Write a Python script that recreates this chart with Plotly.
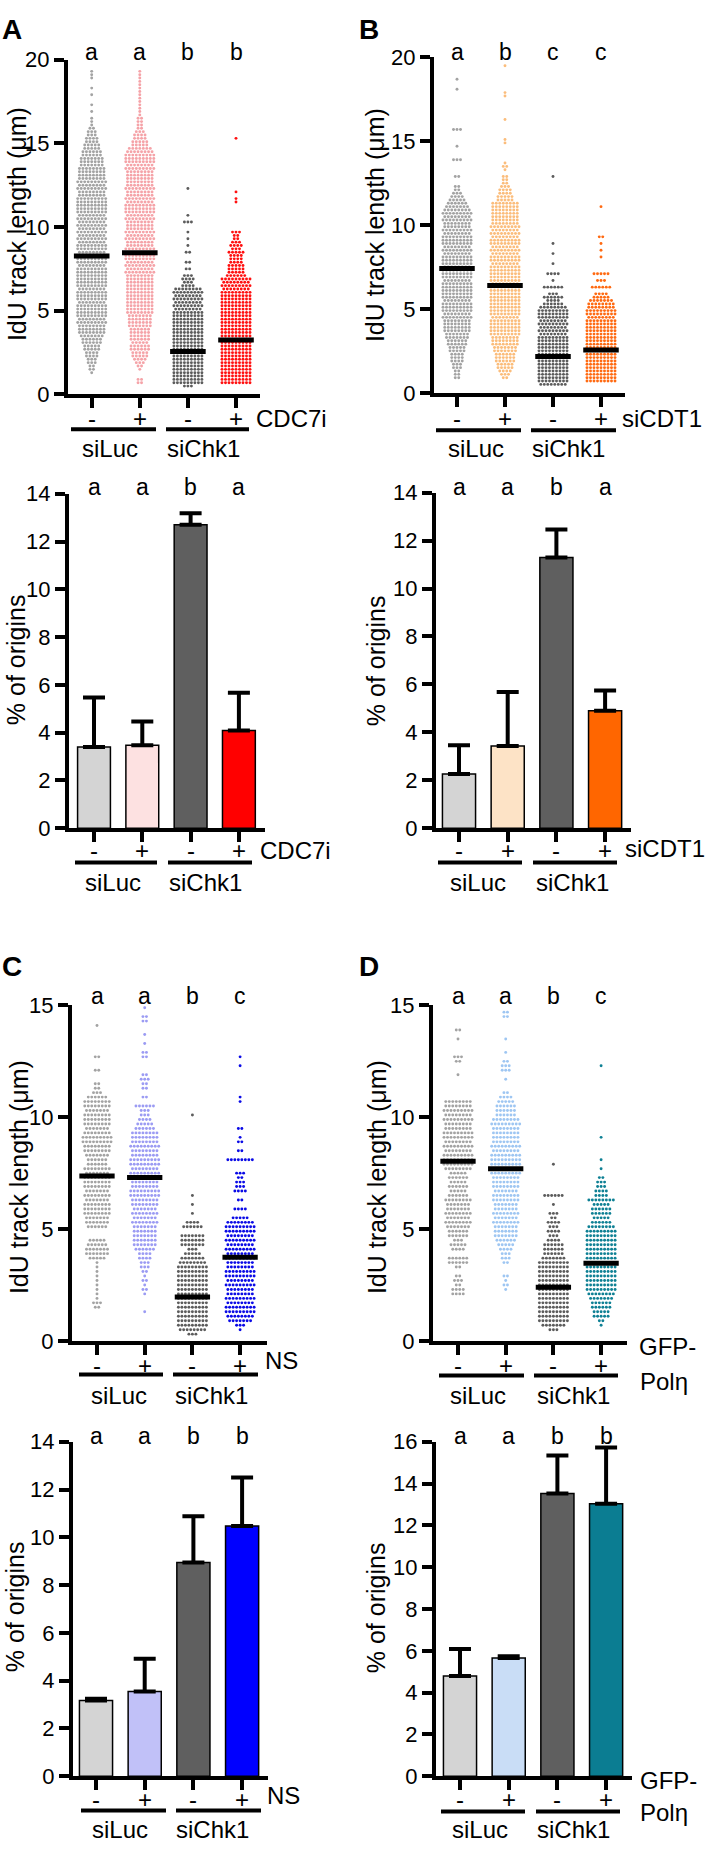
import plotly.graph_objects as go

W, H = 709, 1857

# ---------------- DATA ----------------
conditions = ["-", "+", "-", "+"]
group_names = ["siLuc", "siChk1"]

# IdU track lengths: number of fibres found in each 0.2 µm row (one digit per row, starting at 0 µm)
A_track_rows = [
    "00000 01223 34455 66788 89899 99899 98999 99989 99899 89898 98989 99998 89898 88877 76655 44332 11101 01001 01001 11000",
    "00022 00123 45566 56666 77778 88888 88888 89898 99898 89898 88989 99898 89888 88989 99875 54432 22211 11111 11111 11000",
    "00399 99999 99999 99999 99999 89898 98434 30202 00201 01010 03010 00000 01000",
    "00099 99999 99999 99999 99999 99999 98989 65554 44534 32230 00000 00110 10000 00000 00000 01000",
]
A_track_median = [8.27, 8.47, 2.57, 3.25]
A_track_letters = ["a", "a", "b", "b"]

B_track_rows = [
    "00002 22334 44556 67788 88989 99899 99989 99899 98989 99898 89898 76543 22002 00003 00010 00030 00000 00000 10010",
    "00002 34556 66778 88999 99899 99999 99899 99989 98989 98989 88888 88554 43222 01210 00001 10000 01000 00011 00000 00100",
    "00899 99999 99999 99898 98999 86463 06010 40010 01001 00000 00000 00000 00001",
    "00099 99999 99999 99999 99899 88754 06030 50000 10101 02000 00000 10000",
]
B_track_median = [7.41, 6.40, 2.16, 2.55]
B_track_letters = ["a", "b", "c", "c"]

C_track_rows = [
    "00000 00231 11111 11157 76500 67788 87878 88786 67889 98788 87886 32200 20020 00000 10000",
    "00000 01000 12121 23344 67777 78787 88998 89989 98898 88654 33602 02232 00022 01010 02201",
    "03899 99999 99999 99875 37770 64010 10100 00000 00000 00000 10000",
    "00137 89989 88989 98898 98989 98504 02043 32300 80202 10200 00011 00000 01010",
]
C_track_median = [7.37, 7.30, 1.96, 3.74]
C_track_letters = ["a", "a", "b", "c"]

D_track_rows = [
    "00000 00000 44232 02660 45366 78787 78656 56589 99898 99889 89880 00001 00230 00102",
    "00000 00000 01212 00233 45677 78787 78878 88989 99898 88898 66654 20010 33201 00100 00220",
    "00379 99999 99999 99976 66434 34230 10600 00001",
    "00012 55667 89999 99999 99999 86566 58443 32010 10000 10000 00000 00000 01000",
]
D_track_median = [8.03, 7.70, 2.40, 3.47]
D_track_letters = ["a", "a", "b", "c"]

# % of origins (mean and upper SD)
A_origin_mean = [3.40, 3.47, 12.70, 4.09]
A_origin_err = [2.07, 0.99, 0.48, 1.58]
A_origin_letters = ["a", "a", "b", "a"]

B_origin_mean = [2.26, 3.43, 11.30, 4.90]
B_origin_err = [1.20, 2.25, 1.17, 0.85]
B_origin_letters = ["a", "a", "b", "a"]

C_origin_mean = [3.17, 3.55, 8.95, 10.47]
C_origin_err = [0.07, 1.37, 1.93, 2.03]
C_origin_letters = ["a", "a", "b", "b"]

D_origin_mean = [4.80, 5.66, 13.53, 13.03]
D_origin_err = [1.29, 0.08, 1.81, 2.70]
D_origin_letters = ["a", "a", "b", "b"]

# ---------------- STYLE ----------------
dot_colors = {
    "A": ["#a3a3a3", "#f5a3a8", "#5c5c5c", "#ff1010"],
    "B": ["#a3a3a3", "#fbbd7c", "#5c5c5c", "#ff6a12"],
    "C": ["#a3a3a3", "#9b9bf3", "#5c5c5c", "#0a0ae6"],
    "D": ["#a3a3a3", "#9ec6f2", "#5c5c5c", "#0e8094"],
}
bar_colors = {
    "A": ["#d4d4d4", "#fde1e1", "#5f5f5f", "#ff0000"],
    "B": ["#d4d4d4", "#fde3c6", "#5f5f5f", "#ff6600"],
    "C": ["#d4d4d4", "#c1c1f8", "#5f5f5f", "#0000ff"],
    "D": ["#d4d4d4", "#c9ddf6", "#5f5f5f", "#0b7d92"],
}

FONT = "Liberation Sans, Arial, sans-serif"
TICK_SIZE = 22
LABEL_SIZE = 24
LETTER_SIZE = 23
TITLE_SIZE = 25
PANEL_SIZE = 28

panels = [
    dict(key="A", kind="dots", rows=A_track_rows, med=A_track_median, letters=A_track_letters,
         L=68, R=260, c0=91.7, s=48.1, Y0=387.7, Yt=48.3, ymax=20, dtick=5, step=0.2,
         lety=41, title="IdU track length (\u03bcm)", tx=17, ty=215, pmy=412,
         treat=[("CDC7i", 254, 412)], liney=423, lines=[(71, 156), (166, 249)], gy=442, gx=[110, 203],
         panel=("A", 12, 18)),
    dict(key="B", kind="dots", rows=B_track_rows, med=B_track_median, letters=B_track_letters,
         L=434, R=625, c0=457, s=48.0, Y0=386, Yt=46, ymax=20, dtick=5, step=0.2,
         lety=41, title="IdU track length (\u03bcm)", tx=375, ty=216, pmy=412,
         treat=[("siCDT1", 620, 412)], liney=424, lines=[(436, 521), (531, 616)], gy=442, gx=[476, 568],
         panel=("B", 369, 18)),
    dict(key="A", kind="bars", mean=A_origin_mean, err=A_origin_err, letters=A_origin_letters,
         L=69, R=265, c0=94, s=48.3, Y0=827.3, Yt=488.3, ymax=14, dtick=2,
         lety=481, title="% of origins", tx=16, ty=657, pmy=850,
         treat=[("CDC7i", 258, 850)], liney=862, lines=[(75, 157), (168, 252)], gy=882, gx=[113, 205],
         panel=None),
    dict(key="B", kind="bars", mean=B_origin_mean, err=B_origin_err, letters=B_origin_letters,
         L=436, R=631, c0=459, s=48.7, Y0=827.3, Yt=487.3, ymax=14, dtick=2,
         lety=481, title="% of origins", tx=376, ty=657, pmy=850,
         treat=[("siCDT1", 623, 848)], liney=862, lines=[(438, 522), (533, 617)], gy=882, gx=[478, 572],
         panel=None),
    dict(key="C", kind="dots", rows=C_track_rows, med=C_track_median, letters=C_track_letters,
         L=72, R=267, c0=97, s=47.7, Y0=1347, Yt=1007, ymax=15, dtick=5, step=0.2,
         lety=997, title="IdU track length (\u03bcm)", tx=19, ty=1181, pmy=1372,
         treat=[("NS", 263, 1367)], liney=1381, lines=[(79, 163), (173, 258)], gy=1402, gx=[119, 212],
         panel=("C", 12, 968)),
    dict(key="D", kind="dots", rows=D_track_rows, med=D_track_median, letters=D_track_letters,
         L=433, R=627, c0=458, s=47.7, Y0=1347, Yt=1007, ymax=15, dtick=5, step=0.2,
         lety=997, title="IdU track length (\u03bcm)", tx=377, ty=1181, pmy=1372,
         treat=[("GFP-", 637, 1353), ("Pol\u03b7", 638, 1388)], liney=1382, lines=[(439, 524), (534, 618)],
         gy=1402, gx=[478, 573], panel=("D", 369, 968)),
    dict(key="C", kind="bars", mean=C_origin_mean, err=C_origin_err, letters=C_origin_letters,
         L=73, R=268, c0=96, s=48.7, Y0=1788.3, Yt=1449.3, ymax=14, dtick=2,
         lety=1443, title="% of origins", tx=15, ty=1617, pmy=1812,
         treat=[("NS", 265, 1808)], liney=1823, lines=[(81, 166), (176, 261)], gy=1842, gx=[120, 213],
         panel=None),
    dict(key="D", kind="bars", mean=D_origin_mean, err=D_origin_err, letters=D_origin_letters,
         L=436, R=632, c0=460, s=48.7, Y0=1788.3, Yt=1449.3, ymax=16, dtick=2,
         lety=1443, title="% of origins", tx=376, ty=1617, pmy=1812,
         treat=[("GFP-", 638, 1793), ("Pol\u03b7", 638, 1825)], liney=1824, lines=[(441, 525), (536, 620)],
         gy=1842, gx=[480, 573], panel=None),
]


def fx(px):
    return px / W


def fy(py):
    return 1 - py / H


def swarm(rowstr, step, dx):
    counts = [int(c) for c in rowstr.replace(" ", "")]
    xs, ys = [], []
    for i, n in enumerate(counts):
        v = (i + 0.5) * step
        for j in range(n):
            xs.append((j - (n - 1) / 2) * dx)
            ys.append(v)
    return xs, ys


fig = go.Figure()
annotations = []
shapes = []
layout_axes = {}

for k, p in enumerate(panels, start=1):
    xa = "x" if k == 1 else f"x{k}"
    ya = "y" if k == 1 else f"y{k}"
    xname = "xaxis" if k == 1 else f"xaxis{k}"
    yname = "yaxis" if k == 1 else f"yaxis{k}"
    x_lo = -(p["c0"] - p["L"]) / p["s"]
    x_hi = 3 + (p["R"] - (p["c0"] + 3 * p["s"])) / p["s"]

    layout_axes[xname] = dict(
        domain=[fx(p["L"]), fx(p["R"])], range=[x_lo, x_hi], anchor=ya,
        showline=True, linewidth=4, linecolor="black", ticks="outside",
        tickvals=[0, 1, 2, 3], ticklen=10, tickwidth=4, tickcolor="black",
        showticklabels=False, showgrid=False, zeroline=False, fixedrange=True)
    layout_axes[yname] = dict(
        domain=[fy(p["Y0"]), fy(p["Yt"])], range=[0, p["ymax"]], anchor=xa,
        showline=True, linewidth=4, linecolor="black", ticks="outside",
        tick0=0, dtick=p["dtick"], ticklen=10, tickwidth=4, tickcolor="black",
        tickfont=dict(size=TICK_SIZE, family=FONT, color="black"),
        showgrid=False, zeroline=False, fixedrange=True)

    if p["kind"] == "dots":
        dx = 3.5 / p["s"]
        for i, rows in enumerate(p["rows"]):
            xs, ys = swarm(rows, p["step"], dx)
            fig.add_trace(go.Scatter(
                x=[i + v for v in xs], y=ys, mode="markers", xaxis=xa, yaxis=ya,
                marker=dict(size=2.9, color=dot_colors[p["key"]][i], line=dict(width=0)),
                hoverinfo="skip", showlegend=False))
        for i, m in enumerate(p["med"]):
            fig.add_trace(go.Scatter(
                x=[i - 0.37, i + 0.37], y=[m, m], mode="lines", xaxis=xa, yaxis=ya,
                line=dict(color="black", width=5), hoverinfo="skip", showlegend=False))
    else:
        fig.add_trace(go.Bar(
            x=[0, 1, 2, 3], y=p["mean"], width=0.68, xaxis=xa, yaxis=ya,
            marker=dict(color=bar_colors[p["key"]], line=dict(color="black", width=1.5)),
            error_y=dict(type="data", symmetric=False, array=p["err"], arrayminus=[0, 0, 0, 0],
                         color="black", thickness=4, width=11),
            hoverinfo="skip", showlegend=False))

    for i, t in enumerate(p["letters"]):
        annotations.append(dict(text=t, x=i, y=fy(p["lety"]), xref=xa, yref="paper",
                                showarrow=False, xanchor="center", yanchor="middle",
                                font=dict(size=LETTER_SIZE, family=FONT, color="black")))
    for i, t in enumerate(conditions):
        annotations.append(dict(text=t, x=i, y=fy(p["pmy"]), xref=xa, yref="paper",
                                showarrow=False, xanchor="center", yanchor="middle",
                                font=dict(size=LABEL_SIZE, family=FONT, color="black")))
    for t, tx, ty in p["treat"]:
        annotations.append(dict(text=t, x=fx(tx), y=fy(ty), xref="paper", yref="paper",
                                showarrow=False, xanchor="left", yanchor="middle",
                                font=dict(size=LABEL_SIZE, family=FONT, color="black")))
    for (x0, x1), gname, gxc in zip(p["lines"], group_names, p["gx"]):
        shapes.append(dict(type="line", xref="paper", yref="paper",
                           x0=fx(x0), x1=fx(x1), y0=fy(p["liney"]), y1=fy(p["liney"]),
                           line=dict(color="black", width=4)))
        annotations.append(dict(text=gname, x=fx(gxc), y=fy(p["gy"]), xref="paper", yref="paper",
                                showarrow=False, xanchor="center", yanchor="middle",
                                font=dict(size=LABEL_SIZE, family=FONT, color="black")))
    annotations.append(dict(text=p["title"], x=fx(p["tx"]), y=fy(p["ty"]), xref="paper", yref="paper",
                            showarrow=False, textangle=-90, xanchor="center", yanchor="middle",
                            font=dict(size=TITLE_SIZE, family=FONT, color="black")))
    if p["panel"]:
        t, px_, py_ = p["panel"]
        annotations.append(dict(text=f"<b>{t}</b>", x=fx(px_), y=fy(py_), xref="paper", yref="paper",
                                showarrow=False, xanchor="center", yanchor="middle",
                                font=dict(size=PANEL_SIZE, family=FONT, color="black")))

fig.update_layout(
    width=W, height=H, margin=dict(l=0, r=0, t=0, b=0, pad=0),
    paper_bgcolor="white", plot_bgcolor="white", showlegend=False,
    font=dict(family=FONT, color="black"),
    annotations=annotations, shapes=shapes, **layout_axes)

fig.write_html("out.html", include_plotlyjs=True, config={"displayModeBar": False},
               post_script="document.body.style.margin='0';document.body.style.overflow='hidden';")
